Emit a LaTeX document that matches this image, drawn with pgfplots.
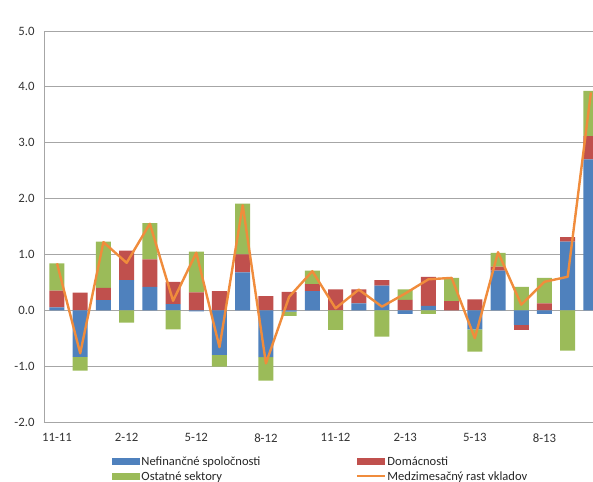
\documentclass[border=0pt]{standalone}
\usepackage{fontspec}
\setmainfont{Carlito}
\usepackage{pgfplots}
\pgfplotsset{compat=1.18}
\usepackage{pgfplotstable}

\definecolor{cblue}{HTML}{4F81BD}
\definecolor{cred}{HTML}{C0504D}
\definecolor{cgreen}{HTML}{9BBB59}
\definecolor{corange}{HTML}{F08C3C}
\definecolor{cgrid}{HTML}{A6A6A6}
\definecolor{ctitle}{HTML}{2F7ED8}

% mesacne prirastky po sektoroch, x = poradie mesiaca od 11-11
\pgfplotstableread{
x  blue   red    green  total
0  0.05   0.30   0.49   0.84
1  -0.835 0.315  -0.245 -0.77
2  0.18   0.22   0.83   1.22
3  0.54   0.53   -0.22  0.85
4  0.42   0.49   0.65   1.55
5  0.11   0.40   -0.34  0.17
6  -0.02  0.32   0.73   1.03
7  -0.80  0.345  -0.21  -0.66
8  0.68   0.32   0.91   1.88
9  -0.84  0.255  -0.42  -0.95
10 -0.025 0.33   -0.075 0.24
11 0.345  0.125  0.24   0.70
12 0.0    0.375  -0.35  0.035
13 0.125  0.25   0.0    0.37
14 0.44   0.10   -0.47  0.065
15 -0.066 0.185  0.19   0.30
16 0.08   0.52   -0.066 0.555
17 0.0    0.166  0.414  0.58
18 -0.34  0.195  -0.40  -0.50
19 0.71   0.07   0.25   1.04
20 -0.26  -0.09  0.42   0.10
21 -0.066 0.125  0.455  0.51
22 1.23   0.08   -0.72  0.60
23 2.70   0.42   0.81   3.90
}\vklady

\pgfplotsset{
  base/.style={
    scale only axis, width=549bp, height=391bp,
    at={(0,0)}, anchor=south west,
    xmin=-0.56, xmax=23.09, ymin=-2, ymax=5,
  },
  barimg/.style={legend image code/.code={\fill[##1] (0bp,-3.5bp) rectangle (28bp,3.5bp);}},
}

\begin{document}
\begin{tikzpicture}
\useasboundingbox (-44bp,-60bp) rectangle (549bp,422bp);

\begin{scope}
  \clip (-44bp,415bp) rectangle (549bp,422bp);
  \node[anchor=base west, inner sep=0pt, text=ctitle, font=\fontsize{19}{22}\selectfont\bfseries]
    at (-19bp,425bp) {Depozity v ostatných sektoroch};
\end{scope}

% kladne casti stlpcov + mriezka, osi a legenda
\begin{axis}[base,
  ybar stacked, bar width=15bp,
  axis lines=left, axis line style={-, cgrid, line width=0.8bp},
  ymajorgrids, grid style={cgrid, line width=0.8bp},
  major tick length=0pt,
  ytick={-2,-1,0,1,2,3,4,5},
  yticklabels={-2.0,-1.0,0.0,1.0,2.0,3.0,4.0,5.0},
  xtick={0,3,6,9,12,15,18,21},
  xticklabels={11-11,2-12,5-12,8-12,11-12,2-13,5-13,8-13},
  tick label style={font=\fontsize{12.8}{14}\selectfont, text=black!80},
  yticklabel style={xshift=-6bp},
  xticklabel style={yshift=-8bp},
  legend columns=2, legend cell align=left,
  legend style={draw=none, fill=none, at={(axis description cs:0.118,-0.078)}, anchor=north west,
    font=\fontsize{12.6}{14}\selectfont, text=black!85, row sep=0.5bp,
    nodes={inner xsep=1.5bp},
    /tikz/every even column/.append style={column sep=94bp}},
]
\addplot[barimg, fill=cblue, draw=none] table[x=x, y expr={max(\thisrow{blue},0)}] {\vklady};
\addlegendentry{Nefinančné spoločnosti}
\addplot[barimg, fill=cred, draw=none] table[x=x, y expr={max(\thisrow{red},0)}] {\vklady};
\addlegendentry{Domácnosti}
\addplot[barimg, fill=cgreen, draw=none] table[x=x, y expr={max(\thisrow{green},0)}] {\vklady};
\addlegendentry{Ostatné sektory}
\addlegendimage{legend image code/.code={\draw[corange, line width=2bp] (0bp,0bp) -- (28bp,0bp);}}
\addlegendentry{Medzimesačný rast vkladov}
\end{axis}

% zaporne casti stlpcov
\begin{axis}[base, hide axis, ybar stacked, bar width=15bp]
\addplot[fill=cblue, draw=none] table[x=x, y expr={min(\thisrow{blue},0)}] {\vklady};
\addplot[fill=cred, draw=none] table[x=x, y expr={min(\thisrow{red},0)}] {\vklady};
\addplot[fill=cgreen, draw=none] table[x=x, y expr={min(\thisrow{green},0)}] {\vklady};
\end{axis}

% medzimesacny rast
\begin{axis}[base, hide axis]
\addplot[corange, line width=2.4bp, line join=round, mark=none] table[x=x, y=total] {\vklady};
\end{axis}
\end{tikzpicture}
\end{document}
